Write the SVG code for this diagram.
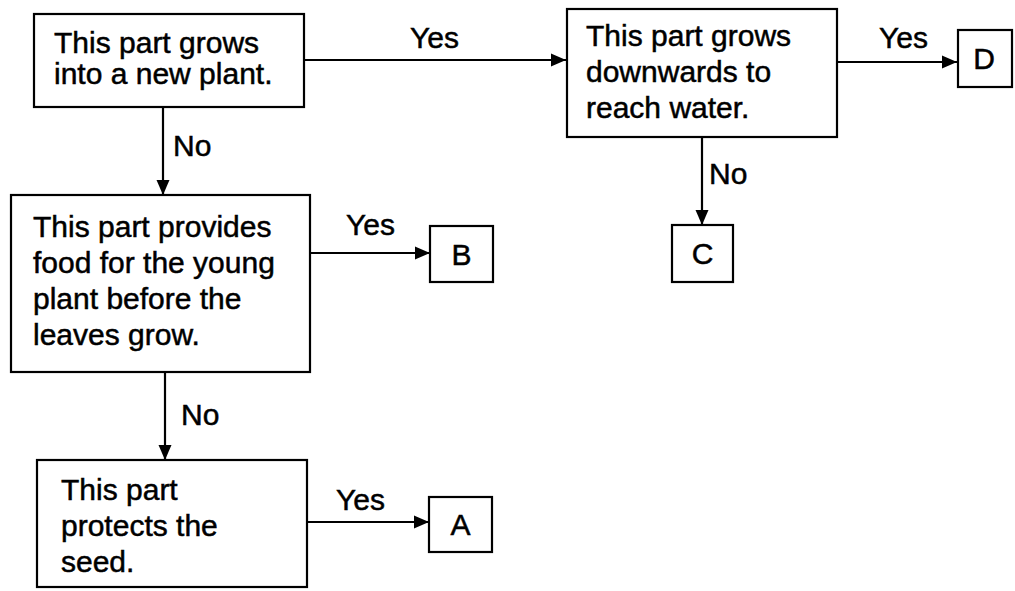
<svg xmlns="http://www.w3.org/2000/svg" width="1015" height="591" viewBox="0 0 1015 591">
<style>
.box{fill:#fff;stroke:#000;stroke-width:2.2}
.t{font-family:"Liberation Sans",Arial,sans-serif;font-size:30px;fill:#000;stroke:#000;stroke-width:0.5}
.c{stroke:#000;stroke-width:2.2;fill:none;marker-end:url(#ah)}
</style>
<defs>
<marker id="ah" markerUnits="userSpaceOnUse" markerWidth="16" markerHeight="14" refX="15" refY="7" orient="auto">
<path d="M0,0.5 L15,7 L0,13.5 z" fill="#000"/>
</marker>
</defs>
<rect width="1015" height="591" fill="#fff"/>
<g id="connectors">
<line class="c" x1="304" y1="60" x2="566" y2="60"/>
<line class="c" x1="837" y1="62" x2="957" y2="62"/>
<line class="c" x1="163" y1="107" x2="163" y2="195"/>
<line class="c" x1="702" y1="137" x2="702" y2="225"/>
<line class="c" x1="310" y1="253" x2="430" y2="253"/>
<line class="c" x1="165" y1="372" x2="165" y2="460"/>
<line class="c" x1="307" y1="522" x2="429" y2="522"/>
<text class="t" x="410" y="48">Yes</text>
<text class="t" x="879" y="48">Yes</text>
<text class="t" x="173" y="156">No</text>
<text class="t" x="709" y="184">No</text>
<text class="t" x="346" y="235">Yes</text>
<text class="t" x="181" y="425">No</text>
<text class="t" x="336" y="510">Yes</text>
</g>
<g id="n1">
<rect class="box" x="34" y="14" width="270" height="93"/>
<text class="t" x="54" y="53">This part grows</text>
<text class="t" x="54" y="84">into a new plant.</text>
</g>
<g id="n2">
<rect class="box" x="567" y="9" width="270" height="128"/>
<text class="t" x="586" y="46">This part grows</text>
<text class="t" x="586" y="82">downwards to</text>
<text class="t" x="586" y="118">reach water.</text>
</g>
<g id="n3">
<rect class="box" x="11" y="195" width="299" height="177"/>
<text class="t" x="33" y="237">This part provides</text>
<text class="t" x="33" y="273">food for the young</text>
<text class="t" x="33" y="309">plant before the</text>
<text class="t" x="33" y="345">leaves grow.</text>
</g>
<g id="n4">
<rect class="box" x="37" y="460" width="270" height="127"/>
<text class="t" x="61" y="500">This part</text>
<text class="t" x="61" y="536">protects the</text>
<text class="t" x="61" y="572">seed.</text>
</g>
<g id="nB">
<rect class="box" x="430" y="226" width="63" height="56"/>
<text class="t" x="461.5" y="265" text-anchor="middle">B</text>
</g>
<g id="nA">
<rect class="box" x="429" y="497" width="63" height="55"/>
<text class="t" x="460.5" y="535" text-anchor="middle">A</text>
</g>
<g id="nC">
<rect class="box" x="672" y="225" width="61" height="57"/>
<text class="t" x="702.5" y="264" text-anchor="middle">C</text>
</g>
<g id="nD">
<rect class="box" x="958" y="30" width="54" height="57"/>
<text class="t" x="984" y="69" text-anchor="middle">D</text>
</g>
</svg>
